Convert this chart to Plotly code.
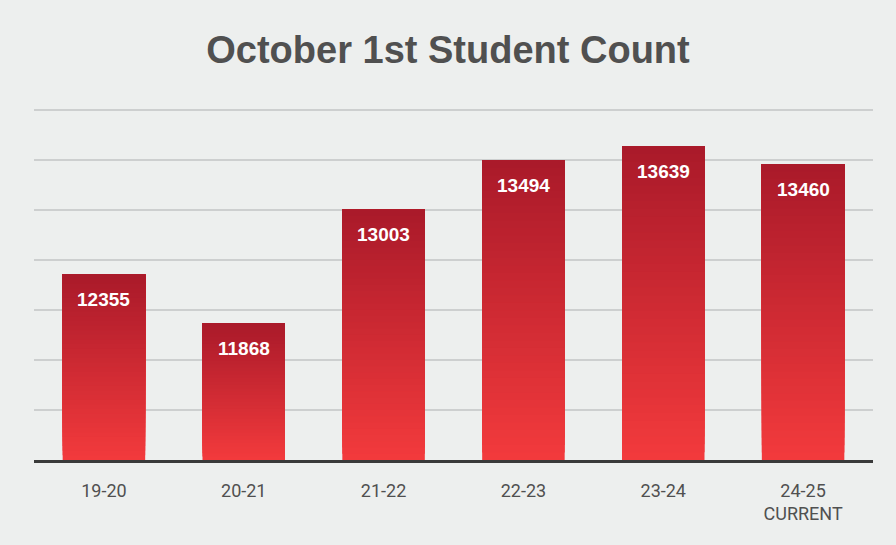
import plotly.graph_objects as go

categories = ["19-20", "20-21", "21-22", "22-23", "23-24", "24-25"]
tick_labels = ["19-20", "20-21", "21-22", "22-23", "23-24", "24-25<br>CURRENT"]
counts = [12355, 11868, 13003, 13494, 13639, 13460]
title_text = "October 1st Student Count"

Y_MIN, Y_MAX = 10500, 14050
N_SLICES = 40
TOP_RGB = (170, 26, 42)
BOTTOM_RGB = (242, 58, 60)


def lerp(a, b, t):
    return tuple(round(a[i] + (b[i] - a[i]) * t) for i in range(3))


fig = go.Figure()
# vertical gradient inside each bar: overlaid bars, each starting higher and ending at the value
for k in range(N_SLICES):
    t = k / (N_SLICES - 1)
    r, g, b = lerp(BOTTOM_RGB, TOP_RGB, t)
    bases = [Y_MIN + k * (v - Y_MIN) / N_SLICES for v in counts]
    fig.add_trace(go.Bar(
        x=categories,
        y=[v - b0 for v, b0 in zip(counts, bases)],
        base=bases,
        marker=dict(color=f"rgb({r},{g},{b})", line=dict(width=0)),
        hoverinfo="skip",
        showlegend=False,
    ))

for c, v in zip(categories, counts):
    fig.add_annotation(
        x=c, y=v, text=f"<b>{v}</b>", showarrow=False,
        yanchor="middle", yshift=-25,
        font=dict(family="Liberation Sans, Arial, sans-serif", size=19, color="white"),
    )

fig.update_layout(
    width=896, height=545,
    margin=dict(l=34, r=23, t=105, b=85),
    paper_bgcolor="#edefee",
    plot_bgcolor="#edefee",
    barmode="overlay",
    bargap=0.41,
    title=dict(
        text=f"<b>{title_text}</b>",
        x=0.5, xanchor="center", y=0.908, yanchor="middle",
        font=dict(family="Liberation Sans, Arial, sans-serif", size=38, color="#505050"),
    ),
    xaxis=dict(
        tickmode="array", tickvals=categories, ticktext=tick_labels,
        showline=True, linecolor="#3a3a3a", linewidth=3,
        showgrid=False, ticks="", ticklabelstandoff=12,
        tickfont=dict(family="Liberation Sans Narrow, Arial Narrow, Roboto, sans-serif", size=18, color="#505050"),
    ),
    yaxis=dict(
        range=[Y_MIN, Y_MAX], tickmode="linear", tick0=Y_MIN, dtick=500,
        showticklabels=False,
        showgrid=True, gridcolor="#cdcfcf", gridwidth=1.5,
        zeroline=False, showline=False,
    ),
)

fig.write_html("out.html", config={"displayModeBar": False},
               post_script="document.body.style.margin='0';")
